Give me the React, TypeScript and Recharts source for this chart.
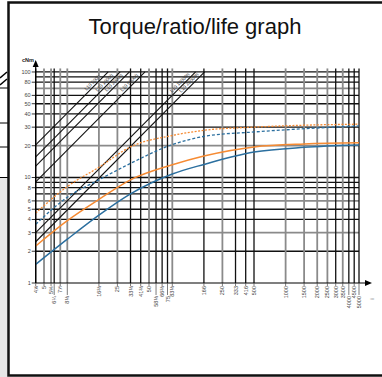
import React from 'react';
import { ComposedChart, XAxis, YAxis, Line, ReferenceLine, ReferenceDot } from 'recharts';

// gear ratios (x axis, log)
const RATIOS = [4.1667, 5, 5.8333, 6.25, 7.1429, 8.3333, 16.667, 25, 33.333, 41.667, 50, 58.333, 66.667, 75, 83.333, 166.67, 250, 333.33, 416.67, 500, 1000, 1500, 2000, 2500, 3000, 3500, 4000, 4500, 5000];
const RATIO_LABELS = ['4⅙', '5', '5⅚', '6¼', '7⅐', '8⅓', '16⅔', '25', '33⅓', '41⅔', '50', '58⅓', '66⅔', '75', '83⅓', '166', '250', '333', '416', '500', '1000', '1500', '2000', '2500', '3000', '3500', '4000', '4500', '5000'];
const RATIO_LOWER = [0, 0, 0, 1, 0, 1, 0, 0, 0, 0, 0, 1, 0, 1, 0, 0, 0, 0, 0, 0, 0, 0, 0, 0, 0, 0, 1, 0, 1];
const RATIO_GRID_GRAY = [0, 1, 1, 0, 1, 1, 1, 1, 0, 0, 1, 0, 0, 0, 1, 0, 1, 0, 0, 0, 1, 1, 1, 1, 0, 1, 0, 0, 0];

// torque (y axis, log, cNm)
const TORQUE_TICKS = [1, 2, 3, 4, 5, 6, 8, 10, 20, 30, 40, 50, 60, 80, 100];
const TORQUE_GRID = [2, 3, 4, 5, 6, 7, 8, 9, 10, 20, 30, 40, 50, 60, 70, 80, 90, 100];
const TORQUE_GRID_GRAY = [0, 1, 0, 0, 1, 0, 0, 0, 0, 1, 0, 0, 0, 0, 1, 0, 0, 0];

// curves
const CURVE_RATIOS = [4.1667, 8.3333, 16.667, 33.333, 83.333, 166.67, 500, 1500, 5000];
const ORANGE_DASHED = [4.6, 8.2, 12.5, 19.5, 25, 28, 30, 31.3, 32];
const BLUE_DASHED = [3.6, 6.5, 9.5, 13.6, 20.5, 24.5, 27, 29, 30.8];
const ORANGE_SOLID = [2.24, 3.9, 6.2, 9.5, 13.2, 16, 19.5, 20.8, 21.3];
const BLUE_SOLID = [1.5, 2.6, 4.4, 7.0, 10.8, 13.3, 17.4, 19.3, 20.3];

// life lines: torque at i = 4 1/6 (torque proportional to ratio)
const LIFE_START = [20.4, 15.7, 12.8, 9.1, 3.0, 2.46];
const LIFE_LABELS = ['L10 500h', 'L10 1000h', 'L10 2000h', 'L10 5000h', 'L10 10000h', 'L10 20000h'];

const X_MIN = 4.1667;
const X_MAX = 6090;
const Y_MIN = 1;
const Y_MAX = 119;
const GRID_TOP = 108;

const ORANGE = '#f68b33';
const BLUE = '#2b6f9f';

const toData = (ys: number[]) => CURVE_RATIOS.map((r, i) => ({ r, v: ys[i] }));

const XTick = (props: any) => {
  const { x, y, payload } = props;
  const idx = RATIOS.findIndex((r) => Math.abs(r - payload.value) < 0.01);
  if (idx < 0) return null;
  const lower = RATIO_LOWER[idx] === 1;
  const start = lower ? 13 : 3;
  return (
    <g>
      <line x1={x} x2={x} y1={y} y2={y + (lower ? 12 : 3)} stroke="#444" strokeWidth={0.7} />
      <text
        transform={`translate(${x + 2},${y + start}) rotate(-90)`}
        textAnchor="end"
        fontSize={5.5}
        fill="#444"
        fontFamily="Liberation Sans, Arial, sans-serif"
      >
        {RATIO_LABELS[idx]}
      </text>
    </g>
  );
};

const ArrowRight = (props: any) => {
  const { cx, cy } = props;
  return <path d={`M${cx + 4},${cy} L${cx - 3},${cy - 3} L${cx - 3},${cy + 3} Z`} fill="#000" />;
};
const ArrowUp = (props: any) => {
  const { cx, cy } = props;
  return <path d={`M${cx},${cy - 4} L${cx - 3},${cy + 3} L${cx + 3},${cy + 3} Z`} fill="#000" />;
};

export default function App() {
  return (
    <div style={{ position: 'absolute', left: 0, top: 0, width: 382, height: 377, background: '#fff', overflow: 'hidden', fontFamily: 'Liberation Sans, Arial, sans-serif' }}>
      {/* left strip from underlying page */}
      <div style={{ position: 'absolute', left: 0, top: 178, width: 8, height: 199, background: '#e6e6e6' }} />
      <svg width={382} height={377} style={{ position: 'absolute', left: 0, top: 0 }}>
        <line x1={0} x2={8} y1={88} y2={88} stroke="#000" strokeWidth={1} />
        <line x1={0} x2={8} y1={123} y2={123} stroke="#000" strokeWidth={1} />
        <line x1={0} x2={8} y1={147} y2={147} stroke="#000" strokeWidth={1} />
        <line x1={0} x2={8} y1={177.5} y2={177.5} stroke="#000" strokeWidth={1} />
        <line x1={0} x2={7} y1={78} y2={72} stroke="#000" strokeWidth={1.5} />
        <line x1={0} x2={7} y1={85} y2={79} stroke="#000" strokeWidth={1.5} />
        <rect x={8.5} y={2.5} width={380} height={373} fill="none" stroke="#111" strokeWidth={2.5} />
        <text x={195} y={34} textAnchor="middle" fontSize={22} fill="#111" fontFamily="Liberation Sans, Arial, sans-serif">
          Torque/ratio/life graph
        </text>
        <text x={22} y={62} fontSize={5.5} fontWeight="bold" fill="#222" fontFamily="Liberation Sans, Arial, sans-serif">
          cNm
        </text>
        <text transform="translate(374,299) rotate(-90)" textAnchor="middle" fontSize={5.5} fill="#444" fontFamily="Liberation Sans, Arial, sans-serif">
          i
        </text>
      </svg>
      <div style={{ position: 'absolute', left: 0, top: 0 }}>
        <ComposedChart width={382} height={377} margin={{ top: 64, right: 14, bottom: 64, left: 5.7 }}>
          <XAxis
            dataKey="r"
            type="number"
            scale="log"
            domain={[X_MIN, X_MAX]}
            allowDataOverflow
            ticks={RATIOS}
            interval={0}
            height={30}
            tick={<XTick />}
            tickLine={false}
            tickSize={0}
            tickMargin={0}
            axisLine={{ stroke: '#000', strokeWidth: 1.2 }}
          />
          <YAxis
            type="number"
            scale="log"
            domain={[Y_MIN, Y_MAX]}
            allowDataOverflow
            ticks={TORQUE_TICKS}
            interval={0}
            width={30}
            tickSize={4}
            tickMargin={1}
            tick={{ fontSize: 5.5, fill: '#444', fontFamily: 'Liberation Sans, Arial, sans-serif' }}
            tickLine={{ stroke: '#000', strokeWidth: 0.8 }}
            axisLine={{ stroke: '#000', strokeWidth: 1.2 }}
          />
          {TORQUE_GRID.map((v, i) => (
            <ReferenceLine
              key={`h${v}`}
              segment={[{ x: X_MIN, y: v }, { x: 5000, y: v }]}
              stroke={TORQUE_GRID_GRAY[i] ? '#8a8a8a' : '#111'}
              strokeWidth={TORQUE_GRID_GRAY[i] ? 1.8 : 1.3}
            />
          ))}
          {RATIOS.map((r, i) => (
            <ReferenceLine
              key={`v${r}`}
              segment={[{ x: r, y: Y_MIN }, { x: r, y: GRID_TOP }]}
              stroke={RATIO_GRID_GRAY[i] ? '#8a8a8a' : '#111'}
              strokeWidth={RATIO_GRID_GRAY[i] ? 1.8 : 1.3}
            />
          ))}
          {LIFE_START.map((t, i) => (
            <ReferenceLine
              key={`l${i}`}
              segment={[{ x: X_MIN, y: t }, { x: (X_MIN * 100) / t, y: 100 }]}
              stroke="#111"
              strokeWidth={1.1}
            />
          ))}
          {LIFE_START.map((t, i) => {
            const rEnd = (X_MIN * 100) / t;
            return (
              <ReferenceDot
                key={`lt${i}`}
                x={rEnd / 1.35}
                y={100 / 1.35}
                r={0}
                ifOverflow="visible"
                shape={(p: any) => (
                  <text
                    transform={`translate(${p.cx - 1},${p.cy - 2}) rotate(-45)`}
                    textAnchor="middle"
                    fontSize={4.8}
                    fill="#333"
                    fontFamily="Liberation Sans, Arial, sans-serif"
                  >
                    {LIFE_LABELS[i]}
                  </text>
                )}
              />
            );
          })}
          <Line data={toData(BLUE_SOLID)} dataKey="v" type="monotone" stroke={BLUE} strokeWidth={1.5} dot={false} isAnimationActive={false} />
          <Line data={toData(ORANGE_SOLID)} dataKey="v" type="monotone" stroke={ORANGE} strokeWidth={1.5} dot={false} isAnimationActive={false} />
          <Line data={toData(BLUE_DASHED)} dataKey="v" type="monotone" stroke={BLUE} strokeWidth={1.3} strokeDasharray="3 2" dot={false} isAnimationActive={false} />
          <Line data={toData(ORANGE_DASHED)} dataKey="v" type="monotone" stroke={ORANGE} strokeWidth={1.3} strokeDasharray="2 1.5" dot={false} isAnimationActive={false} />
          <ReferenceDot x={X_MAX} y={Y_MIN} r={0} ifOverflow="visible" shape={<ArrowRight />} />
          <ReferenceDot x={X_MIN} y={Y_MAX} r={0} ifOverflow="visible" shape={<ArrowUp />} />
        </ComposedChart>
      </div>
    </div>
  );
}
